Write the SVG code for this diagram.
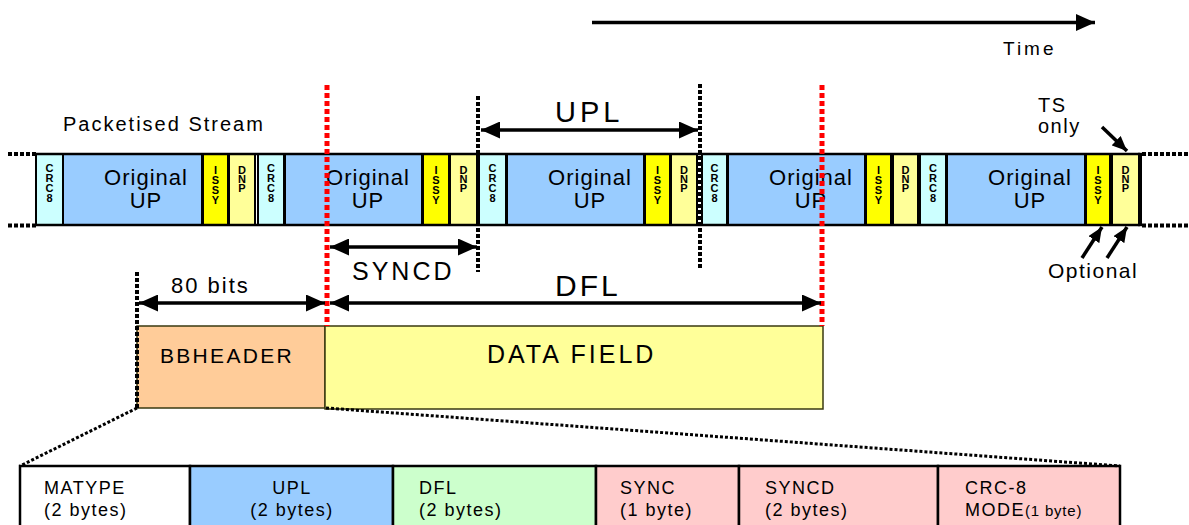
<svg xmlns="http://www.w3.org/2000/svg" width="1189" height="525" viewBox="0 0 1189 525">
<defs>
<style>
text{font-family:"Liberation Sans",Arial,sans-serif;fill:#000}
.cell{stroke:#000;stroke-width:2}
.crc{fill:#CCFFFF}.up{fill:#99CCFF}.issy{fill:#FFFF00}.dnp{fill:#FFFF99}
.up-t{font-size:22px;letter-spacing:1px;text-anchor:middle}
.v{font-size:11px;font-weight:bold;writing-mode:vertical-rl;text-orientation:upright;letter-spacing:-2px}
.vd{font-size:11px;font-weight:bold;writing-mode:vertical-rl;text-orientation:upright;letter-spacing:-3px}
.blk{stroke:#000;stroke-width:4;stroke-dasharray:4 2;fill:none}
.red{stroke:#FF0000;stroke-width:5;stroke-dasharray:5 3;fill:none}
.diag{stroke:#000;stroke-width:3;stroke-dasharray:3 2;fill:none}
.arr{stroke:#000;stroke-width:3.5;fill:none}
.tbl{stroke:#000;stroke-width:2.5}
.tt{font-size:18px;letter-spacing:1.5px}
.box{stroke:#3a3a10;stroke-width:1.5}
</style>
<marker id="ah" markerWidth="19" markerHeight="17" refX="19" refY="8.5" orient="auto-start-reverse" markerUnits="userSpaceOnUse"><path d="M0,0 L19,8.5 L0,17 z" fill="#000"/></marker>
<marker id="ahs" markerWidth="15" markerHeight="13" refX="15" refY="6.5" orient="auto" markerUnits="userSpaceOnUse"><path d="M0,0 L15,6.5 L0,13 z" fill="#000"/></marker>
</defs>
<rect width="1189" height="525" fill="#fff"/>

<g id="time">
<line x1="592" y1="22.5" x2="1095" y2="22.5" class="arr" marker-end="url(#ah)"/>
<text x="1003" y="55" style="font-size:19px;letter-spacing:3px">Time</text>
</g>

<g id="stream-label"><text x="63" y="131" style="font-size:20px;letter-spacing:2px">Packetised Stream</text></g>

<g id="stream">
<g id="c1"><rect x="36" y="154" width="27" height="71" class="cell crc"/><text class="v" x="49.5" y="162">CRC8</text></g>
<g id="u1"><rect x="63" y="154" width="139" height="71" class="cell up"/><text class="up-t" x="146" y="185">Original</text><text class="up-t" x="146" y="208">UP</text></g>
<g id="i1"><rect x="203" y="154" width="25" height="71" class="cell issy"/><text class="v" x="215.5" y="164">ISSY</text></g>
<g id="d1"><rect x="229" y="154" width="26" height="71" class="cell dnp"/><text class="vd" x="242" y="164">DNP</text></g>

<g id="c2"><rect x="258" y="154" width="26" height="71" class="cell crc"/><text class="v" x="271" y="162">CRC8</text></g>
<g id="u2"><rect x="285" y="154" width="137" height="71" class="cell up"/><text class="up-t" x="368" y="185">Original</text><text class="up-t" x="368" y="208">UP</text></g>
<g id="i2"><rect x="423" y="154" width="26" height="71" class="cell issy"/><text class="v" x="436" y="164">ISSY</text></g>
<g id="d2"><rect x="450" y="154" width="27" height="71" class="cell dnp"/><text class="vd" x="463.5" y="164">DNP</text></g>

<g id="c3"><rect x="479" y="154" width="27" height="71" class="cell crc"/><text class="v" x="492.5" y="162">CRC8</text></g>
<g id="u3"><rect x="507" y="154" width="137" height="71" class="cell up"/><text class="up-t" x="590" y="185">Original</text><text class="up-t" x="590" y="208">UP</text></g>
<g id="i3"><rect x="645" y="154" width="25" height="71" class="cell issy"/><text class="v" x="657.5" y="164">ISSY</text></g>
<g id="d3"><rect x="671" y="154" width="26" height="71" class="cell dnp"/><text class="vd" x="684" y="164">DNP</text></g>

<g id="c4"><rect x="702" y="154" width="25" height="71" class="cell crc"/><text class="v" x="714.5" y="162">CRC8</text></g>
<g id="u4"><rect x="728" y="154" width="137" height="71" class="cell up"/><text class="up-t" x="811" y="185">Original</text><text class="up-t" x="811" y="208">UP</text></g>
<g id="i4"><rect x="866" y="154" width="25" height="71" class="cell issy"/><text class="v" x="878.5" y="164">ISSY</text></g>
<g id="d4"><rect x="893" y="154" width="25" height="71" class="cell dnp"/><text class="vd" x="905.5" y="164">DNP</text></g>

<g id="c5"><rect x="920" y="154" width="26" height="71" class="cell crc"/><text class="v" x="933" y="162">CRC8</text></g>
<g id="u5"><rect x="947" y="154" width="138" height="71" class="cell up"/><text class="up-t" x="1030" y="185">Original</text><text class="up-t" x="1030" y="208">UP</text></g>
<g id="i5"><rect x="1086" y="154" width="24" height="71" class="cell issy"/><text class="v" x="1098" y="164">ISSY</text></g>
<g id="d5"><rect x="1112" y="154" width="27" height="71" class="cell dnp"/><text class="vd" x="1125.5" y="164">DNP</text></g>

<line x1="36" y1="154" x2="1140" y2="154" stroke="#000" stroke-width="2.5"/>
<line x1="36" y1="225" x2="1140" y2="225" stroke="#000" stroke-width="2.5"/>
<line x1="1140" y1="152.8" x2="1140" y2="226.2" stroke="#000" stroke-width="4"/>
</g>

<g id="bbheader"><rect x="137" y="326" width="188" height="82" class="box" fill="#FFCC99"/><text x="160" y="363" style="font-size:21px;letter-spacing:2.3px">BBHEADER</text></g>
<g id="datafield"><rect x="325" y="326" width="498" height="83" class="box" fill="#FFFF99"/><text x="487" y="363" style="font-size:25px;letter-spacing:3px">DATA FIELD</text></g>

<g id="table">
<g id="t-matype"><rect x="20" y="466" width="170" height="70" class="tbl" fill="#fff"/><text class="tt" x="44" y="494">MATYPE</text><text class="tt" x="44" y="516">(2 bytes)</text></g>
<g id="t-upl"><rect x="190" y="466" width="203" height="70" class="tbl" fill="#99CCFF"/><text class="tt" x="292" y="494" text-anchor="middle">UPL</text><text class="tt" x="292" y="516" text-anchor="middle">(2 bytes)</text></g>
<g id="t-dfl"><rect x="393" y="466" width="203" height="70" class="tbl" fill="#CCFFCC"/><text class="tt" x="419" y="494">DFL</text><text class="tt" x="419" y="516">(2 bytes)</text></g>
<g id="t-sync"><rect x="596" y="466" width="143" height="70" class="tbl" fill="#FFCCCC"/><text class="tt" x="620" y="494">SYNC</text><text class="tt" x="620" y="516">(1 byte)</text></g>
<g id="t-syncd"><rect x="739" y="466" width="199" height="70" class="tbl" fill="#FFCCCC"/><text class="tt" x="765" y="494">SYNCD</text><text class="tt" x="765" y="516">(2 bytes)</text></g>
<g id="t-crc"><rect x="938" y="466" width="182" height="70" class="tbl" fill="#FFCCCC"/><text class="tt" x="965" y="494">CRC-8</text><text class="tt" x="965" y="516">MODE<tspan style="font-size:15px;letter-spacing:0.8px">(1 byte)</tspan></text></g>
</g>

<g id="connectors">
<line x1="8" y1="154" x2="36" y2="154" class="blk"/>
<line x1="8" y1="225.5" x2="36" y2="225.5" class="blk"/>
<line x1="1142" y1="154" x2="1189" y2="154" class="blk"/>
<line x1="1142" y1="225.5" x2="1189" y2="225.5" class="blk"/>
<line x1="478" y1="96" x2="478" y2="272" class="blk"/>
<line x1="700" y1="84" x2="700" y2="270" class="blk"/>
<line x1="137" y1="272" x2="137" y2="408" class="blk"/>
<line x1="327" y1="85" x2="327" y2="326" class="red"/>
<line x1="822" y1="85" x2="822" y2="326" class="red"/>
<line x1="137" y1="408" x2="20" y2="466" class="diag"/>
<line x1="326" y1="408" x2="1120" y2="466" class="diag"/>

<g id="upl-dim"><line x1="481" y1="130" x2="698" y2="130" class="arr" marker-start="url(#ah)" marker-end="url(#ah)"/><text x="555" y="122" style="font-size:29px;letter-spacing:4px">UPL</text></g>
<g id="syncd-dim"><line x1="330" y1="247" x2="477" y2="247" class="arr" marker-start="url(#ah)" marker-end="url(#ah)"/><text x="352" y="280" style="font-size:25px;letter-spacing:3px">SYNCD</text></g>
<g id="bits-dim"><line x1="139" y1="303" x2="325" y2="303" class="arr" marker-start="url(#ah)" marker-end="url(#ah)"/><text x="171" y="293" style="font-size:22px;letter-spacing:2px">80 bits</text></g>
<g id="dfl-dim"><line x1="330" y1="303" x2="821" y2="303" class="arr" marker-start="url(#ah)" marker-end="url(#ah)"/><text x="555" y="296" style="font-size:30px;letter-spacing:3px">DFL</text></g>

<g id="ts-only"><text x="1038" y="112" style="font-size:20px;letter-spacing:1.5px">TS</text><text x="1038" y="133" style="font-size:20px;letter-spacing:1.5px">only</text><line x1="1102" y1="127" x2="1127" y2="151" class="arr" marker-end="url(#ahs)"/></g>
<g id="optional"><text x="1048" y="278" style="font-size:21px;letter-spacing:1.5px">Optional</text><line x1="1082" y1="258" x2="1102" y2="227" class="arr" marker-end="url(#ahs)"/><line x1="1107" y1="258" x2="1127" y2="227" class="arr" marker-end="url(#ahs)"/></g>
</g>
</svg>
